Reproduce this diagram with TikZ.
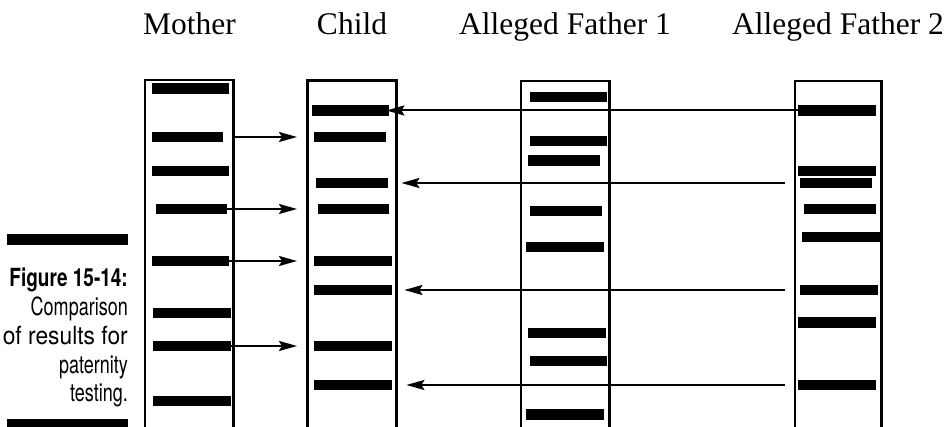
\documentclass[tikz,border=0pt]{standalone}
\usepackage{graphicx}
\usepackage{fontspec}
\setmainfont{Liberation Serif}
\newfontfamily\capfont[FakeStretch=0.72]{TeX Gyre Heros}
\newfontfamily\capboldfont[FakeStretch=0.76]{TeX Gyre Heros}
\usetikzlibrary{arrows.meta}
\tikzset{
  band/.style={fill=black, draw=none, inner sep=0pt, minimum height=10.5pt, anchor=west},
  lane/.style={line width=2.5pt},
  arr/.style={line width=2pt, -{Stealth[length=18pt,width=10pt,inset=3pt]}},
  title/.style={font=\fontsize{31.5}{36}\selectfont, anchor=base, inner sep=0pt},
  captxt/.style={font=\capfont\fontsize{25}{30}\selectfont, anchor=base east, inner sep=0pt},
  capbold/.style={font=\capboldfont\bfseries\fontsize{25}{30}\selectfont, anchor=base east, inner sep=0pt},
  bar/.style={fill=black, draw=none}
}
\newcommand{\bandat}[4]{\node[band, minimum width=#3-#2] (#1) at (#2,#4) {};}
\begin{document}
\begin{tikzpicture}[x=1pt,y=-1pt]
\useasboundingbox (0,0) rectangle (948,427);
\clip (0,0) rectangle (948,427);
% titles
\node[title] (tm) at (189.5,35) {Mother};
\node[title] (tc) at (352,35) {Child};
\node[title] (tf1) at (565,35) {Alleged Father 1};
\node[title] (tf2) at (838,35) {Alleged Father 2};
% lanes (open at the bottom)
\draw[lane] (145,430) -- (145,80) -- (233.5,80) -- (233.5,430);
\draw[lane] (307.3,430) -- (307.3,80.7) -- (396.5,80.7) -- (396.5,430);
\draw[lane] (521,430) -- (521,81) -- (609.3,81) -- (609.3,430);
\draw[lane] (795,430) -- (795,81) -- (881.5,81) -- (881.5,430);
% mother bands
\bandat{m1}{152}{229}{88.5}
\bandat{m2}{152}{223}{137}
\bandat{m3}{152}{229}{171}
\bandat{m4}{156}{227}{209}
\bandat{m5}{152}{229}{261}
\bandat{m6}{153}{231}{313}
\bandat{m7}{153}{231}{346}
\bandat{m8}{153}{231}{401}
% child bands
\bandat{c1}{312}{389}{110.5}
\bandat{c2}{314}{386}{137}
\bandat{c3}{316}{388}{183}
\bandat{c4}{318}{389}{209}
\bandat{c5}{314}{392}{261}
\bandat{c6}{314}{392}{290}
\bandat{c7}{314}{392}{346}
\bandat{c8}{314}{392}{385}
% alleged father 1 bands
\bandat{f1}{530}{607}{97}
\bandat{f2}{530}{607}{141}
\bandat{f3}{528}{600}{160.7}
\bandat{f4}{530}{602}{211}
\bandat{f5}{526}{604}{247}
\bandat{f6}{528}{606}{333}
\bandat{f7}{530}{607}{361}
\bandat{f8}{526}{604}{414.7}
% alleged father 2 bands
\bandat{g1}{798}{876}{110.5}
\bandat{g2}{798}{876}{171}
\bandat{g3}{800}{872}{183}
\bandat{g4}{804}{876}{209}
\bandat{g5}{802}{880}{237}
\bandat{g6}{800}{878}{290}
\bandat{g7}{798}{876}{322.7}
\bandat{g8}{798}{876}{385}
% mother -> child arrows
\draw[arr, shorten <=11pt, shorten >=17pt] (m2.east) -- (c2.west);
\draw[arr, shorten >=21pt] (m4.east) -- (c4.west);
\draw[arr, shorten >=17pt] (m5.east) -- (c5.west);
\draw[arr, shorten >=17pt] (m7.east) -- (c7.west);
% father 2 -> child arrows
\draw[arr, shorten <=-1pt, shorten >=-3pt] (g1.west) -- (c1.east);
\draw[arr, shorten <=15pt, shorten >=13pt] (g3.west) -- (c3.east);
\draw[arr, shorten <=15pt, shorten >=12pt] (g6.west) -- (c6.east);
\draw[arr, shorten <=13pt, shorten >=14pt] (g8.west) -- (c8.east);
% caption
\fill[bar] (7,234) rectangle (128,245);
\fill[bar] (7,419) rectangle (128,430);
\node[capbold] (cap1) at (128,287) {Figure 15-14:};
\node[captxt] (cap2) at (128,316) {Comparison};
\node[captxt] (cap3) at (128,345) {\resizebox{125pt}{\height}{of results for}};
\node[captxt] (cap4) at (128,374) {paternity};
\node[captxt] (cap5) at (128,402) {testing.};
\end{tikzpicture}
\end{document}
